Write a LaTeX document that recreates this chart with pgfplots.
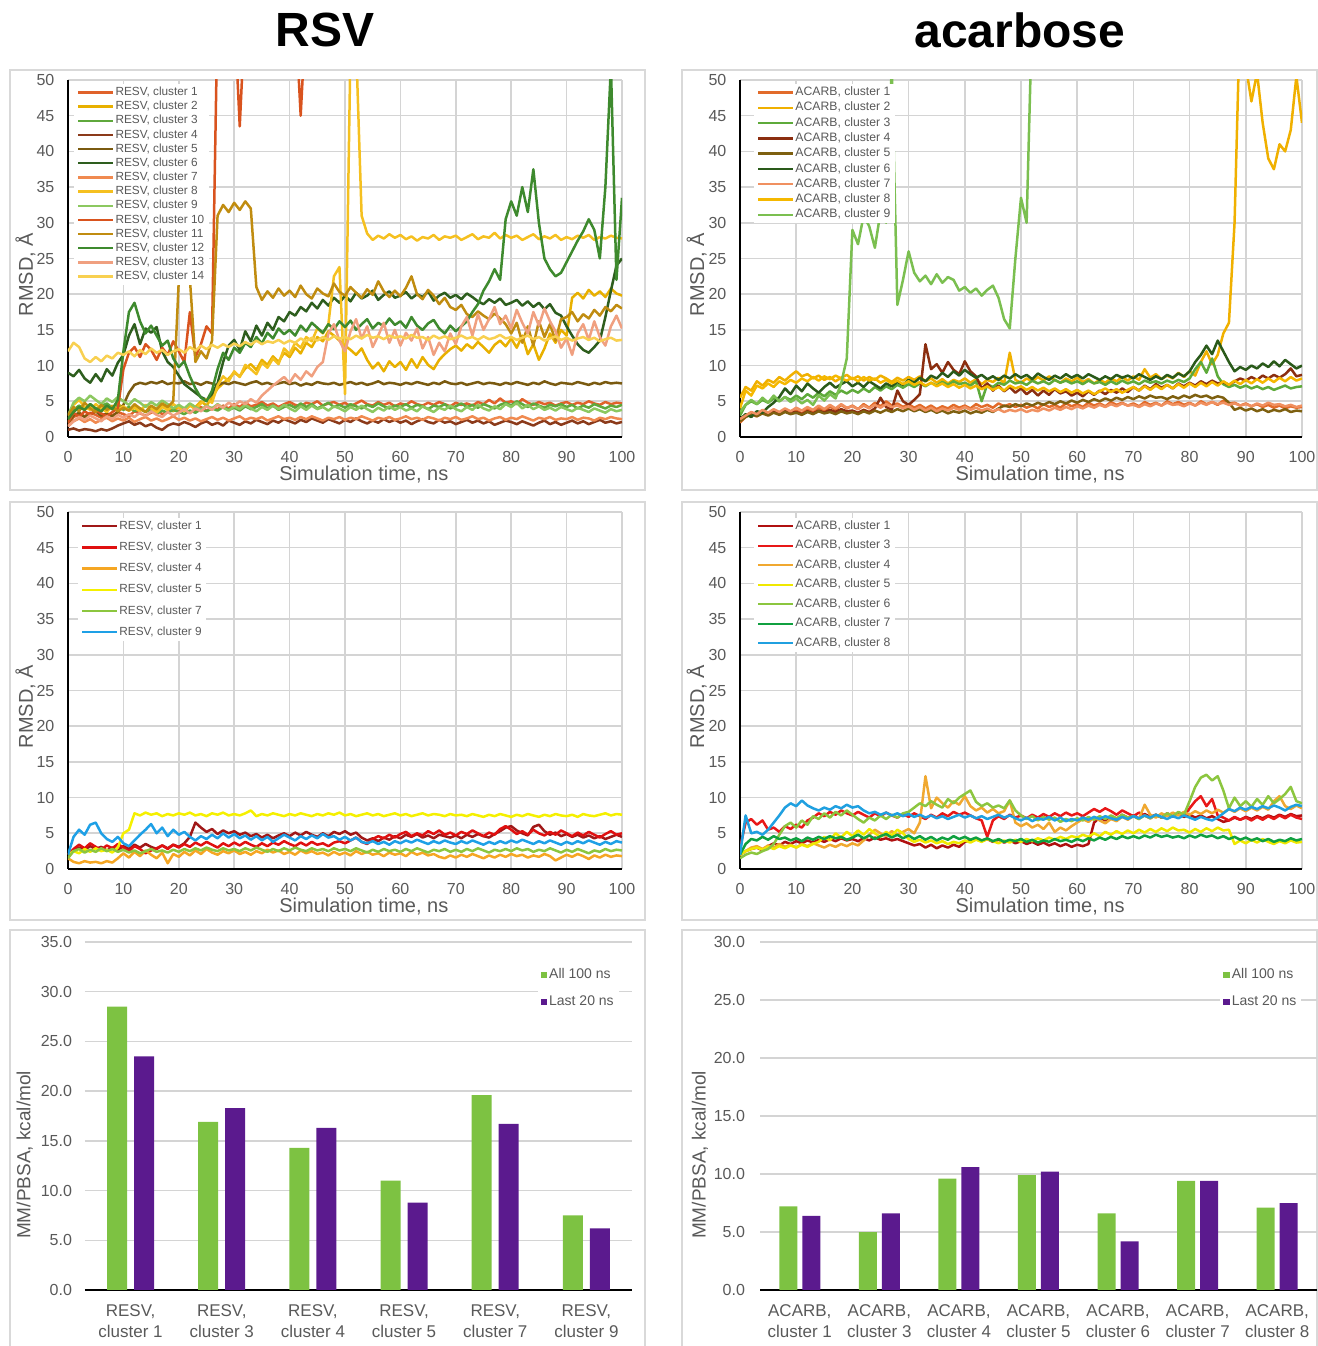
\documentclass[border=0pt]{standalone}
\usepackage{pgfplots}
\usepackage{pgfplotstable}
\pgfplotsset{compat=1.18}
\usepackage{fontspec}
\setmainfont{Liberation Sans}

\definecolor{labgray}{HTML}{595959}
\definecolor{gridgray}{HTML}{D4D4D4}
\definecolor{framegray}{HTML}{D9D9D9}
\definecolor{barGreen}{HTML}{7DC242}
\definecolor{barPurple}{HTML}{5B1A8E}
% RESV all
\definecolor{rA}{HTML}{E0622A}\definecolor{rB}{HTML}{E8B000}\definecolor{rC}{HTML}{5FA83C}
\definecolor{rD}{HTML}{8B3A1A}\definecolor{rE}{HTML}{7A5A10}\definecolor{rF}{HTML}{2E5E1E}
\definecolor{rG}{HTML}{F08A50}\definecolor{rH}{HTML}{F5C020}\definecolor{rI}{HTML}{8CC860}
\definecolor{rJ}{HTML}{D9531E}\definecolor{rK}{HTML}{C08C10}\definecolor{rL}{HTML}{3E8A2E}
\definecolor{rM}{HTML}{F0A080}\definecolor{rN}{HTML}{F8D050}
% ACARB all
\definecolor{aA}{HTML}{E26B2A}\definecolor{aB}{HTML}{F0B000}\definecolor{aC}{HTML}{5EAA3A}
\definecolor{aD}{HTML}{8B2E10}\definecolor{aE}{HTML}{7E6010}\definecolor{aF}{HTML}{2A5A1A}
\definecolor{aG}{HTML}{F09060}\definecolor{aH}{HTML}{F5B800}\definecolor{aI}{HTML}{7BBF50}
% selected
\definecolor{mA}{HTML}{A01818}\definecolor{mC}{HTML}{E01010}\definecolor{mD}{HTML}{F5A623}
\definecolor{mE}{HTML}{F5F000}\definecolor{mG}{HTML}{8CC63F}\definecolor{mI}{HTML}{1EA0E6}
\definecolor{nA}{HTML}{B01010}\definecolor{nC}{HTML}{E81818}\definecolor{nD}{HTML}{F0A830}
\definecolor{nE}{HTML}{F0E800}\definecolor{nF}{HTML}{8CC63F}\definecolor{nG}{HTML}{10A040}
\definecolor{nH}{HTML}{20A0E0}

% ---------------- RESV, all clusters (rows = series, t = 0..100 ns)
\pgfplotstableread{
t 0 1 2 3 4 5 6 7 8 9 10 11 12 13 14 15 16 17 18 19 20 21 22 23 24 25 26 27 28 29 30 31 32 33 34 35 36 37 38 39 40 41 42 43 44 45 46 47 48 49 50 51 52 53 54 55 56 57 58 59 60 61 62 63 64 65 66 67 68 69 70 71 72 73 74 75 76 77 78 79 80 81 82 83 84 85 86 87 88 89 90 91 92 93 94 95 96 97 98 99 100
c1 1.5 2.8 3.2 2.9 3.4 3.1 2.7 3.3 3.0 3.5 3.2 2.9 3.6 3.3 3.0 3.4 3.8 3.2 3.5 3.9 3.6 4.0 3.4 3.8 4.2 3.7 4.1 3.9 4.4 4.0 4.6 4.2 4.8 4.3 4.5 4.9 4.4 4.7 4.2 4.6 4.9 4.5 4.3 4.8 4.6 5.0 4.4 4.7 4.9 4.5 4.8 4.3 4.7 5.1 4.6 4.4 4.9 4.5 4.8 4.3 4.7 4.5 5.0 4.6 4.4 4.8 4.5 4.9 4.6 4.3 4.8 4.5 4.7 4.4 4.9 4.6 5.2 4.7 5.4 4.8 5.0 4.6 5.3 4.8 4.5 4.9 4.6 4.8 4.4 4.7 4.9 4.5 4.8 4.6 5.0 4.7 4.5 4.9 4.6 4.8 4.7
c2 2.0 3.5 4.2 3.8 4.5 4.0 3.6 4.3 3.9 4.6 4.1 3.7 4.4 4.0 3.5 4.2 3.8 4.5 4.1 3.6 4.3 3.9 4.6 4.2 5.0 4.4 5.5 6.8 7.5 8.2 9.0 8.5 9.6 10.2 9.4 10.8 10.1 11.3 10.5 11.8 11.2 12.5 11.7 13.2 12.6 14.0 13.4 14.8 14.2 13.5 12.8 12.2 11.5 12.4 10.8 9.6 10.4 9.2 10.6 9.8 10.5 9.4 10.9 9.7 11.2 10.1 9.5 10.8 11.6 12.3 12.8 12.1 13.0 12.4 13.3 12.6 11.8 12.9 13.5 12.7 13.8 12.5 14.2 11.6 13.0 10.8 12.4 14.5 13.2 15.0 14.2 19.5 20.2 19.4 20.6 19.8 20.4 19.6 20.8 20.1 19.8
c3 2.5 3.8 4.4 4.0 4.6 3.9 4.3 4.7 4.1 4.5 3.8 4.2 3.6 4.0 3.5 3.9 3.3 3.7 3.4 3.8 3.5 3.2 3.7 3.4 3.9 3.6 4.0 3.7 4.2 3.8 4.1 3.7 4.3 3.9 4.2 4.6 4.0 4.4 3.8 4.2 4.5 4.1 4.7 4.2 4.6 4.0 4.4 4.8 4.2 4.5 4.1 4.6 4.3 4.0 4.5 4.2 4.7 4.3 4.0 4.4 4.2 4.6 4.1 4.5 4.3 3.9 4.4 4.2 4.6 4.0 4.3 4.7 4.2 4.5 4.1 4.6 4.3 4.0 4.5 4.8 4.4 5.0 4.6 4.2 4.7 4.4 4.1 4.5 4.3 4.6 4.2 4.5 4.0 4.4 4.1 4.6 4.3 4.0 4.4 4.2 4.5
c4 1.0 1.2 0.9 1.1 1.0 0.8 1.1 0.9 1.2 1.6 1.9 2.2 1.7 2.0 1.5 1.8 1.3 1.0 1.6 1.9 1.7 2.1 1.8 1.4 1.9 2.2 1.7 2.0 1.6 2.3 2.0 1.7 2.2 1.9 2.4 2.1 1.8 2.3 2.0 2.5 2.2 1.9 2.4 2.1 2.6 2.3 2.0 2.5 2.2 1.9 2.4 2.1 2.6 2.2 1.9 2.3 2.0 2.5 2.1 2.4 2.0 2.3 1.8 2.2 2.5 2.1 1.9 2.4 2.0 2.2 1.8 2.1 2.4 2.0 2.3 1.9 2.2 1.7 2.0 2.3 2.1 1.8 2.2 1.9 1.6 2.0 2.3 1.8 2.1 1.7 2.0 2.3 1.9 2.2 1.8 2.1 2.4 2.0 2.2 1.9 2.1
c5 2.0 3.0 3.4 2.8 3.2 3.6 3.0 3.3 2.9 3.5 4.5 6.2 7.3 7.6 7.4 7.7 7.5 7.8 7.4 7.6 7.5 7.8 7.4 7.6 7.3 7.7 7.5 7.2 7.6 7.4 7.7 7.5 7.3 7.6 7.8 7.4 7.6 7.3 7.5 7.7 7.4 7.6 7.2 7.5 7.3 7.7 7.5 7.4 7.6 7.3 7.5 7.7 7.4 7.6 7.3 7.5 7.8 7.4 7.6 7.5 7.3 7.6 7.4 7.7 7.5 7.3 7.6 7.4 7.8 7.5 7.4 7.6 7.3 7.5 7.7 7.4 7.6 7.5 7.3 7.6 7.4 7.7 7.5 7.3 7.6 7.4 7.8 7.5 7.3 7.6 7.5 7.4 7.7 7.5 7.3 7.6 7.4 7.7 7.5 7.6 7.5
c6 9.0 8.5 9.4 8.2 7.6 8.8 7.8 9.5 8.6 10.4 11.5 14.2 15.8 13.0 15.2 14.6 15.4 12.0 10.5 9.8 8.6 7.4 6.8 6.2 5.6 5.2 6.0 7.5 10.5 12.8 13.6 12.2 14.8 13.4 15.6 14.2 16.0 15.0 16.8 16.2 17.5 17.0 18.2 17.6 18.8 18.0 19.2 18.4 19.5 18.8 19.8 19.0 20.2 19.4 19.8 20.5 19.2 19.9 20.4 19.5 19.8 20.3 19.4 20.0 19.6 20.4 19.1 19.8 20.2 19.5 19.9 19.3 20.1 19.6 19.0 18.6 19.3 18.8 19.4 18.5 18.8 19.2 18.4 19.0 18.2 18.8 17.9 18.6 17.4 17.0 15.5 14.2 13.0 12.2 11.8 12.6 13.5 16.8 20.5 24.0 25.0
c7 1.5 2.2 2.6 2.1 2.5 2.0 2.4 2.7 2.2 2.6 2.3 2.7 2.1 2.5 2.8 2.3 2.6 2.2 2.5 2.9 2.4 2.7 2.3 2.6 2.2 2.5 2.8 2.4 2.7 2.3 2.6 2.9 2.4 2.7 2.5 2.8 2.3 2.6 2.9 2.5 2.7 2.4 2.8 2.5 2.9 2.6 2.3 2.7 2.5 2.8 2.4 2.7 2.5 2.9 2.6 2.3 2.7 2.5 2.8 2.4 2.6 2.9 2.5 2.7 2.4 2.8 2.6 2.3 2.7 2.5 2.8 2.4 2.6 2.9 2.5 2.7 2.3 2.6 2.8 2.4 2.7 2.5 2.9 2.6 2.3 2.7 2.5 2.8 2.4 2.6 2.5 2.8 2.4 2.7 2.6 2.3 2.7 2.5 2.8 2.6 2.5
c8 3.0 4.5 5.2 4.2 3.8 4.6 4.0 3.5 4.4 3.9 4.3 3.7 4.1 3.6 4.5 4.0 3.4 4.2 3.8 4.6 4.1 3.6 4.4 3.9 4.7 5.3 4.8 7.2 8.5 7.8 9.2 8.4 10.1 9.5 8.8 10.4 9.7 11.0 10.2 12.4 11.6 13.2 12.5 14.0 13.4 15.2 14.5 15.8 22.5 23.8 6.0 55.0 55.0 31.0 28.5 27.6 28.2 27.8 28.4 27.9 28.3 27.7 28.1 27.5 28.0 27.8 28.3 27.6 28.1 27.9 28.2 27.6 28.0 28.4 27.7 28.1 27.9 28.6 27.8 28.3 27.9 28.2 27.6 28.0 28.4 27.7 28.1 27.8 28.3 27.6 28.0 27.7 28.2 27.9 28.3 27.6 28.0 27.8 28.2 27.9 27.8
c9 3.0 4.8 5.5 5.0 5.8 5.2 4.6 5.4 4.9 5.6 5.0 4.5 5.3 4.8 4.2 4.9 4.4 5.1 4.6 4.0 4.5 4.0 4.7 4.2 3.8 4.4 4.0 4.6 4.1 3.7 4.3 3.9 4.5 4.0 3.6 4.2 3.8 4.4 3.9 4.5 4.0 3.6 4.3 3.8 4.4 3.9 4.2 3.7 4.3 4.0 3.6 4.2 3.8 4.4 3.9 3.5 4.1 3.7 4.3 3.8 4.2 3.7 4.0 3.6 4.3 3.9 3.5 4.1 3.8 4.4 3.9 3.6 4.2 3.8 4.5 4.0 3.7 4.3 3.9 4.6 4.2 4.8 4.0 4.5 3.9 4.3 3.8 4.1 3.7 4.2 3.9 3.6 4.1 3.8 3.5 4.0 3.7 3.4 3.9 3.6 3.8
c10 2.0 3.4 2.8 3.6 3.1 3.8 3.3 2.9 3.5 4.0 9.5 11.8 12.6 11.2 13.0 12.2 10.8 12.5 11.5 13.4 12.0 10.5 17.5 11.2 13.0 15.5 14.5 60 60 60 60 43.5 60 60 60 60 60 60 60 60 60 60 45 60 60 60 60 60 60 60 60 60 60 60 60 60 60 60 60 60 60 60 60 60 60 60 60 60 60 60 60 60 60 60 60 60 60 60 60 60 60 60 60 60 60 60 60 60 60 60 60 60 60 60 60 60 60 60 60 60 60
c11 3.0 4.2 3.6 4.8 4.0 3.5 4.5 3.8 4.3 3.6 4.1 3.7 4.6 4.0 3.5 4.4 3.9 4.7 4.2 5.0 22.0 21.8 22.2 10.5 12.0 11.0 13.5 31.0 32.5 31.5 32.8 31.8 33.0 32.0 21.0 19.2 20.4 19.5 20.8 19.8 20.5 19.6 21.2 20.0 19.4 20.8 20.1 19.7 21.5 20.3 19.8 21.0 20.2 19.5 20.7 19.9 21.8 20.4 19.6 20.5 19.7 20.9 22.5 20.0 19.3 20.6 19.8 18.6 19.5 18.2 17.8 18.5 17.2 16.8 17.6 17.0 16.5 17.3 16.6 15.8 14.5 16.0 13.2 15.5 12.8 16.2 14.0 15.8 13.5 16.5 16.8 17.5 16.2 17.2 16.6 17.8 17.0 18.2 17.6 18.5 18.0
c12 2.5 3.5 4.2 3.8 4.6 4.0 3.6 4.4 3.9 5.2 12.0 17.5 18.8 16.2 14.5 15.6 14.2 12.8 13.5 11.0 9.8 10.6 8.5 6.8 5.5 5.0 6.5 9.5 11.8 10.8 12.5 11.8 13.2 12.6 14.0 13.1 14.6 13.8 15.2 14.4 15.0 14.2 15.6 14.8 16.0 15.3 14.6 15.8 15.1 16.2 15.4 16.3 15.0 15.8 16.5 15.2 16.0 15.5 16.6 15.7 16.2 15.3 16.8 15.6 15.0 15.9 16.4 15.2 14.5 15.6 14.8 15.5 16.2 17.5 18.6 20.5 21.8 23.5 22.0 30.5 33.0 31.0 35.0 31.5 37.5 30.0 25.0 23.5 22.5 23.0 24.5 26.0 27.5 28.8 30.5 29.0 25.0 35.0 52.0 22.0 33.5
c13 1.5 2.2 2.8 2.4 3.0 2.6 2.2 2.9 2.5 3.1 2.7 3.2 2.8 3.4 2.9 3.6 3.1 2.8 3.5 3.0 3.4 3.9 3.3 4.0 3.6 4.3 3.8 4.5 4.1 4.8 4.4 5.0 4.6 5.3 4.8 5.8 6.5 7.2 7.8 8.4 7.6 8.8 8.0 9.2 8.5 9.8 10.5 14.5 15.8 13.5 12.0 14.8 16.5 13.8 15.5 12.6 14.2 16.0 13.2 15.0 12.8 14.6 13.5 15.2 12.4 14.0 11.5 13.2 12.0 14.5 13.0 15.5 16.8 14.2 17.2 15.0 16.5 18.2 15.8 17.0 15.2 17.8 16.0 14.5 17.5 15.6 18.0 16.2 14.8 12.5 13.8 11.5 14.5 15.8 13.6 16.2 14.0 12.8 15.5 17.0 15.2
c14 12.0 13.2 12.6 11.0 10.5 11.2 10.6 11.4 11.0 11.8 11.5 12.0 11.3 12.2 11.6 12.4 11.8 12.2 11.5 12.0 12.3 11.8 12.6 12.1 12.8 12.3 12.9 12.5 13.0 12.6 13.1 12.7 13.3 12.9 13.5 13.0 13.4 13.2 13.6 13.1 13.5 13.2 13.8 13.4 13.9 13.5 14.0 13.6 14.1 13.8 14.0 13.7 14.2 13.8 14.3 13.9 14.1 13.7 14.2 13.9 14.1 13.8 14.3 13.9 14.0 13.6 14.2 13.8 14.1 13.7 13.9 14.2 13.8 14.0 13.6 14.1 13.7 13.9 14.3 13.8 14.0 13.6 13.9 14.2 13.7 14.0 13.5 13.8 14.1 13.6 13.9 13.5 13.8 14.0 13.6 13.9 13.4 13.7 13.9 13.5 13.6
}\RAraw
\pgfplotstabletranspose[colnames from=t]{\RA}{\RAraw}

% ---------------- ACARB, all clusters
\pgfplotstableread{
t 0 1 2 3 4 5 6 7 8 9 10 11 12 13 14 15 16 17 18 19 20 21 22 23 24 25 26 27 28 29 30 31 32 33 34 35 36 37 38 39 40 41 42 43 44 45 46 47 48 49 50 51 52 53 54 55 56 57 58 59 60 61 62 63 64 65 66 67 68 69 70 71 72 73 74 75 76 77 78 79 80 81 82 83 84 85 86 87 88 89 90 91 92 93 94 95 96 97 98 99 100
a1 2.0 2.8 3.2 2.9 3.4 3.1 3.6 3.3 3.8 3.4 3.7 3.3 3.9 3.5 4.1 3.6 4.3 3.8 4.5 4.0 4.4 3.9 4.6 4.1 4.8 4.3 5.0 4.4 4.7 4.2 4.6 4.1 4.5 4.0 4.4 3.9 4.3 4.0 4.5 4.1 4.4 4.0 4.6 4.2 4.5 4.1 4.7 4.3 4.6 4.2 4.5 4.1 4.4 4.0 4.6 4.2 4.5 4.1 4.7 4.3 4.6 4.2 4.8 4.4 4.7 4.3 4.9 4.5 4.8 4.4 4.7 4.3 4.9 4.5 4.8 4.4 5.0 4.6 4.9 4.5 4.8 4.4 5.0 4.6 4.9 4.5 5.1 4.7 4.8 4.4 4.7 4.3 4.6 4.2 4.5 4.1 4.4 4.0 4.3 4.1 4.2
a2 5.5 7.0 6.5 7.8 7.2 8.0 7.6 8.4 7.9 8.6 9.2 8.5 8.8 8.2 8.6 8.0 8.4 7.8 8.3 8.7 8.1 8.5 7.9 8.4 8.0 8.6 8.2 7.7 8.3 7.9 8.4 8.0 8.5 7.8 8.2 7.6 8.1 7.5 8.0 7.7 8.2 7.6 8.1 7.4 8.0 7.7 8.3 7.5 11.8 8.0 7.6 8.2 7.8 8.4 7.9 8.5 8.0 7.6 8.2 7.8 8.3 7.7 8.1 7.5 8.0 7.6 8.2 7.8 8.4 7.9 8.5 8.0 9.5 8.3 8.8 8.1 8.6 8.2 9.0 8.4 9.2 8.6 10.5 12.0 10.2 11.5 14.5 16.0 30.0 60 52.0 47.0 51.0 44.0 39.0 37.5 41.0 40.0 43.0 50.5 44.0
a3 3.0 4.5 5.0 4.6 5.2 4.8 5.4 5.0 5.6 5.2 5.8 5.3 6.0 5.5 6.2 5.7 6.4 5.9 6.5 6.1 6.6 6.2 6.8 6.3 7.0 6.5 7.1 6.7 7.3 6.9 7.4 7.0 7.5 7.1 7.6 7.2 7.7 7.3 7.8 7.4 7.6 7.2 7.8 5.0 7.4 7.0 7.6 7.3 7.9 7.5 7.7 7.3 7.9 7.5 7.8 7.4 8.0 7.6 7.9 7.5 7.8 7.4 7.9 7.5 7.7 7.3 7.8 7.4 7.9 7.5 7.8 7.4 7.9 7.6 7.8 7.5 7.9 7.6 8.0 7.7 8.2 9.5 10.5 9.0 11.0 8.5 7.4 7.0 7.3 6.9 7.2 6.8 7.1 6.7 7.0 6.6 6.9 7.2 6.8 7.0 7.1
a4 2.5 3.0 3.4 3.1 3.5 3.2 3.6 3.3 3.7 3.4 3.5 3.2 3.6 3.3 3.7 3.4 3.8 3.5 3.9 3.6 3.7 3.4 3.8 3.5 4.0 5.5 4.2 3.8 6.5 5.0 4.5 5.2 6.0 13.0 9.5 10.2 9.0 10.5 9.4 8.8 10.6 9.2 8.5 6.8 7.5 6.5 7.2 6.4 7.0 6.2 6.8 6.0 6.6 5.8 6.5 5.9 6.7 6.1 6.4 5.8 6.2 5.7 6.4 5.9 6.5 6.0 6.6 6.2 6.8 6.3 7.0 6.5 7.2 6.7 7.4 6.9 7.3 6.8 7.5 7.1 7.6 7.2 7.8 7.4 7.9 7.5 7.7 7.3 7.8 8.2 7.9 8.4 8.0 8.6 8.2 8.7 8.3 8.8 9.6 8.5 8.7
a5 2.2 2.8 3.2 2.9 3.3 3.0 3.4 3.1 3.5 3.2 3.4 3.1 3.5 3.2 3.6 3.3 3.5 3.2 3.6 3.3 3.5 3.2 3.6 3.3 3.7 3.4 3.8 3.5 3.9 3.6 4.0 3.6 3.9 3.5 3.8 3.4 3.7 3.3 3.6 3.4 3.7 3.3 3.6 3.4 3.8 3.5 4.0 4.4 4.2 4.6 4.3 4.7 4.4 4.8 4.5 4.9 4.6 5.0 4.7 5.1 4.8 5.2 4.9 5.3 5.0 5.4 5.1 5.5 5.2 5.6 5.3 5.7 5.4 5.8 5.5 5.6 5.3 5.7 5.4 5.8 5.5 5.9 5.6 5.8 5.4 5.7 5.5 4.8 3.8 4.1 3.7 4.0 3.6 3.9 3.5 3.8 3.6 3.9 3.5 3.7 3.6
a6 2.5 3.2 2.8 3.6 3.4 4.2 4.8 5.6 6.8 6.0 7.2 6.4 7.5 6.8 6.2 7.0 7.6 6.9 7.4 7.8 7.1 7.6 7.0 7.8 7.3 6.8 7.5 7.1 7.7 7.3 8.0 7.6 8.3 7.8 8.6 8.2 9.0 8.4 9.2 8.6 9.4 8.8 8.3 8.7 8.1 8.5 8.0 8.6 8.2 8.8 8.3 8.7 8.1 8.9 8.4 8.0 8.6 8.2 8.8 8.3 8.7 8.2 8.8 8.4 8.0 8.5 8.1 8.7 8.3 8.6 8.2 8.8 8.4 8.0 8.5 8.1 8.7 8.3 8.9 8.5 9.2 10.5 11.5 12.8 11.6 13.5 12.0 10.5 9.2 9.8 9.4 10.0 9.6 10.3 9.8 10.6 9.9 10.8 10.2 9.6 10.0
a7 2.5 3.0 3.5 3.2 3.8 3.4 3.9 3.5 4.0 3.6 4.1 3.7 4.2 3.8 4.4 3.9 4.5 4.0 4.6 4.1 4.3 3.9 4.4 4.0 4.5 4.1 4.6 4.2 4.4 4.0 4.3 3.8 4.2 3.7 4.1 3.6 4.0 3.7 4.1 3.8 4.2 3.8 4.1 3.7 4.0 3.6 3.9 3.5 3.8 3.6 3.9 3.5 3.8 3.6 4.0 3.7 4.1 3.8 4.2 3.9 4.3 4.0 4.4 4.1 4.5 4.2 4.6 4.3 4.7 4.4 4.5 4.2 4.6 4.3 4.7 4.4 4.8 4.5 4.6 4.3 4.7 4.4 4.8 4.5 4.9 4.6 4.8 4.5 4.7 4.4 4.6 4.3 4.7 4.4 4.8 4.5 4.6 4.3 4.5 4.2 4.4
a8 4.0 6.5 5.8 7.2 6.8 7.5 7.0 7.8 7.4 8.0 7.6 8.2 7.8 8.4 7.9 8.5 8.1 8.6 8.2 7.9 8.3 7.8 8.4 7.9 8.2 7.6 8.0 7.5 7.9 7.4 7.8 7.3 7.7 7.2 7.6 7.1 7.5 7.0 7.4 6.9 7.3 6.8 7.2 6.7 7.1 6.6 7.0 6.5 7.2 6.8 7.1 6.6 7.0 6.5 6.9 6.4 6.8 6.3 6.7 6.2 6.6 6.1 6.5 6.0 6.4 6.8 6.3 6.7 6.2 6.6 7.0 6.5 7.1 6.6 7.2 6.7 7.3 6.8 7.4 6.9 7.5 7.0 7.6 7.1 7.7 7.2 7.8 7.3 7.9 7.4 8.0 7.5 8.1 7.6 8.2 7.7 8.3 7.8 8.4 7.9 8.2
a9 3.5 4.5 5.2 4.6 5.5 4.8 5.8 5.0 5.6 4.9 5.4 4.7 5.2 4.5 5.8 5.1 6.0 5.4 7.5 11.0 29.0 27.0 31.0 29.5 26.5 31.5 30.0 52.0 18.5 22.0 26.0 23.0 21.8 22.6 21.4 22.8 21.6 22.4 22.0 20.5 21.0 20.2 20.8 19.8 20.6 21.2 19.5 16.5 15.2 25.0 33.5 30.0 60 60 60 60 60 60 60 60 60 60 60 60 60 60 60 60 60 60 60 60 60 60 60 60 60 60 60 60 60 60 60 60 60 60 60 60 60 60 60 60 60 60 60 60 60 60 60 60 60
}\AAraw
\pgfplotstabletranspose[colnames from=t]{\AA}{\AAraw}

% ---------------- RESV, selected clusters
\pgfplotstableread{
t 0 1 2 3 4 5 6 7 8 9 10 11 12 13 14 15 16 17 18 19 20 21 22 23 24 25 26 27 28 29 30 31 32 33 34 35 36 37 38 39 40 41 42 43 44 45 46 47 48 49 50 51 52 53 54 55 56 57 58 59 60 61 62 63 64 65 66 67 68 69 70 71 72 73 74 75 76 77 78 79 80 81 82 83 84 85 86 87 88 89 90 91 92 93 94 95 96 97 98 99 100
m1 2.0 2.6 3.0 2.7 3.2 2.8 3.1 2.6 3.0 2.7 3.2 2.8 3.4 3.0 3.5 3.1 2.8 3.3 2.9 3.4 3.1 3.6 4.5 6.5 5.8 5.2 5.6 4.9 5.4 5.0 5.3 4.8 5.1 4.6 4.9 4.4 4.8 4.3 4.7 5.0 4.6 5.1 4.7 5.2 4.8 4.5 5.0 4.6 5.2 4.9 5.3 4.8 5.1 4.4 4.0 4.3 3.9 4.4 4.1 4.6 4.3 4.8 4.5 4.9 4.4 4.7 4.3 4.8 4.6 4.4 4.7 4.3 4.8 4.5 4.9 4.6 4.4 4.9 5.3 5.8 6.0 5.4 5.0 4.7 5.9 6.2 5.3 4.8 5.1 4.6 4.9 4.5 4.8 4.4 4.7 4.3 4.6 4.2 4.5 4.8 4.5
m3 2.0 2.8 3.4 2.9 3.6 3.1 2.7 3.3 2.9 3.5 3.0 2.5 3.2 2.8 2.2 2.6 2.9 3.3 2.8 3.4 3.0 3.5 3.1 3.7 3.3 3.8 3.4 3.0 3.6 3.2 3.7 3.3 3.8 3.4 3.1 3.6 3.2 3.7 3.4 3.9 3.5 3.2 3.7 3.3 3.8 3.4 3.6 3.2 3.7 3.9 3.6 4.0 4.4 3.8 3.5 4.2 4.6 4.3 4.8 4.4 4.9 5.2 4.6 5.0 4.7 5.3 4.9 5.4 4.8 5.1 4.7 5.2 4.9 5.4 5.0 4.6 5.1 4.8 5.6 6.0 5.5 4.9 5.3 4.8 5.5 5.0 4.7 5.2 4.8 5.4 5.0 4.6 5.1 4.7 5.2 4.8 4.4 4.9 5.3 4.8 5.0
m4 1.5 1.0 0.8 1.1 0.9 1.0 0.8 1.1 0.9 1.5 2.2 1.6 2.4 1.8 2.6 2.0 1.5 2.3 0.8 2.1 1.7 2.4 1.9 2.6 2.1 2.8 2.3 2.0 2.5 2.2 2.6 2.1 2.4 2.0 2.5 2.2 2.7 2.3 2.6 2.1 2.4 2.0 2.6 2.2 2.5 2.1 2.3 1.9 2.4 2.0 2.3 1.9 2.5 2.1 2.4 2.0 2.2 1.8 2.3 2.0 2.2 1.8 2.4 2.0 2.3 1.9 2.1 1.7 1.5 1.9 1.6 2.0 1.7 2.1 1.8 1.5 1.9 1.6 2.0 1.7 2.1 1.8 2.0 1.6 1.9 1.7 2.1 1.8 1.2 1.6 2.0 1.7 2.1 1.8 1.4 1.9 1.6 2.0 1.7 1.9 1.8
m5 2.0 2.5 2.2 2.8 2.4 2.9 2.5 2.7 2.3 3.0 5.0 5.5 7.8 7.5 7.9 7.6 7.8 7.4 7.7 7.5 7.8 7.6 7.9 7.5 7.7 7.4 7.8 7.6 7.9 7.5 7.7 7.5 7.8 8.2 7.4 7.7 7.5 7.8 7.6 7.4 7.7 7.5 7.8 7.6 7.4 7.7 7.5 7.8 7.6 7.9 7.5 7.7 7.4 7.6 7.8 7.5 7.7 7.4 7.6 7.8 7.5 7.7 7.4 7.6 7.8 7.5 7.7 7.6 7.4 7.7 7.5 7.6 7.4 7.7 7.5 7.3 7.6 7.4 7.7 7.5 7.3 7.6 7.4 7.7 7.5 7.3 7.6 7.4 7.7 7.5 7.4 7.6 7.3 7.7 7.5 7.4 7.6 7.8 7.5 7.7 7.6
m7 1.5 2.5 2.8 2.3 2.7 2.4 2.9 2.5 2.8 2.4 2.7 2.3 2.6 2.2 2.5 2.8 2.4 2.6 2.3 2.7 2.4 2.8 2.5 2.9 2.6 3.0 2.7 2.5 2.9 2.6 2.8 2.5 2.9 2.6 3.0 2.7 2.4 2.8 2.5 2.9 2.6 3.0 2.7 2.5 2.9 2.6 2.8 2.5 2.9 2.6 2.8 2.5 2.9 2.6 2.3 2.7 2.4 2.8 2.5 2.7 2.4 2.8 2.5 2.9 2.6 2.3 2.7 2.5 2.8 2.4 2.7 2.4 2.8 2.5 2.9 2.6 2.3 2.7 2.5 2.8 2.5 2.9 2.6 2.8 2.4 2.7 2.5 2.9 2.6 2.3 2.7 2.4 2.8 2.5 2.2 2.6 2.4 2.8 2.5 2.7 2.6
m9 2.0 4.5 5.5 4.8 6.2 6.5 5.0 4.2 3.8 4.5 3.6 3.2 4.0 4.8 5.5 6.3 5.0 5.8 4.6 5.5 4.8 5.2 4.5 4.0 4.6 4.2 4.8 4.3 5.0 4.4 4.9 4.3 4.7 4.1 4.6 4.0 4.5 3.8 4.3 4.8 4.4 4.0 4.6 4.2 4.7 4.3 4.9 4.4 4.6 4.1 4.5 4.0 4.4 3.8 3.6 3.9 3.5 3.8 3.4 3.9 3.6 4.0 3.7 4.1 3.8 3.5 3.9 3.6 4.0 3.7 3.5 3.9 3.6 4.0 3.7 3.4 3.8 3.5 3.9 3.6 4.0 3.7 4.1 3.8 3.5 3.9 3.6 4.0 3.7 3.4 3.8 3.5 3.9 3.6 4.0 3.7 3.4 3.8 3.5 3.9 3.7
}\RSraw
\pgfplotstabletranspose[colnames from=t]{\RS}{\RSraw}

% ---------------- ACARB, selected clusters
\pgfplotstableread{
t 0 1 2 3 4 5 6 7 8 9 10 11 12 13 14 15 16 17 18 19 20 21 22 23 24 25 26 27 28 29 30 31 32 33 34 35 36 37 38 39 40 41 42 43 44 45 46 47 48 49 50 51 52 53 54 55 56 57 58 59 60 61 62 63 64 65 66 67 68 69 70 71 72 73 74 75 76 77 78 79 80 81 82 83 84 85 86 87 88 89 90 91 92 93 94 95 96 97 98 99 100
n1 2.0 2.5 2.8 3.0 2.6 3.2 3.6 3.3 3.8 3.5 3.9 3.6 4.0 3.7 4.1 3.8 4.2 3.9 4.3 4.0 4.2 3.9 4.3 4.0 4.4 4.1 4.3 4.0 4.2 3.9 3.6 3.3 3.5 3.0 3.4 2.9 3.3 3.0 3.4 3.1 3.8 4.0 4.3 3.9 4.2 3.8 4.1 3.7 4.0 3.6 3.9 3.5 3.8 3.4 3.7 3.3 3.6 3.2 3.5 3.1 3.4 3.2 3.5 6.5 7.2 6.8 7.4 7.0 7.6 7.2 7.5 7.1 7.7 7.3 7.6 7.2 7.8 7.4 7.7 7.3 7.6 7.2 7.5 7.1 7.4 7.0 6.6 6.8 7.2 6.9 7.3 7.0 7.4 7.1 7.5 7.2 7.6 7.3 7.7 7.4 7.5
n3 3.0 6.5 7.0 6.2 6.8 5.5 5.8 5.2 6.0 5.6 6.2 5.8 6.8 7.2 7.8 7.4 8.0 7.6 8.2 7.8 7.5 8.0 7.6 7.2 7.8 7.4 7.9 7.5 7.2 7.7 7.3 7.8 7.4 7.0 7.6 7.2 7.8 7.4 8.0 7.6 7.9 7.5 7.1 6.8 4.5 6.8 7.4 7.0 7.6 7.2 7.5 7.1 7.6 7.2 7.7 7.3 7.8 7.4 7.9 7.5 7.8 7.4 7.9 8.4 8.0 8.5 8.1 7.6 8.2 7.8 7.4 7.9 7.5 7.1 7.6 7.2 7.7 7.3 7.8 7.4 8.5 9.5 10.2 8.8 9.8 7.5 7.2 6.8 7.3 6.9 7.2 6.8 7.3 6.9 7.4 7.0 7.5 7.1 7.6 7.2 7.0
n4 2.0 2.5 3.0 3.2 2.8 3.3 3.0 3.5 3.1 3.4 3.0 3.5 3.2 3.6 3.3 3.0 3.4 3.1 3.5 3.2 3.6 3.3 4.0 4.8 5.5 5.0 4.6 5.3 4.8 5.2 5.6 5.0 6.5 13.0 8.5 10.0 9.2 8.6 9.5 9.0 10.2 8.8 8.2 8.6 7.9 8.4 7.8 8.1 9.6 6.5 6.0 6.4 5.8 6.2 5.6 6.5 5.2 5.8 5.4 6.0 6.5 7.0 6.6 7.2 6.8 6.4 7.0 6.7 7.3 6.9 7.4 7.0 9.0 7.6 7.2 7.8 7.4 7.9 7.5 8.0 7.6 8.1 7.7 8.2 7.8 8.3 7.9 8.4 8.0 8.5 8.1 8.6 8.2 8.7 8.3 9.5 10.2 8.8 8.4 8.9 8.5
n5 2.0 2.5 2.8 3.0 2.7 3.1 2.8 3.2 2.9 3.3 3.0 3.4 3.1 3.5 3.8 4.5 4.0 5.0 4.4 5.2 4.6 5.4 4.8 5.6 5.0 4.5 5.2 4.7 5.5 5.0 4.2 3.8 4.1 3.7 4.0 3.6 3.9 3.5 3.8 3.6 4.0 3.7 4.1 3.8 4.2 3.9 3.6 4.0 3.7 4.1 3.8 4.2 3.9 4.3 4.0 4.4 4.1 4.5 4.2 4.6 4.4 4.8 4.5 5.0 4.6 5.2 4.8 5.3 4.9 5.4 5.0 5.5 5.1 5.6 5.2 5.7 5.3 5.8 5.4 5.5 5.1 5.6 5.2 5.7 5.3 5.8 5.4 5.5 3.5 4.0 3.6 4.1 3.7 4.2 3.8 3.5 3.9 3.6 4.0 3.7 3.8
n6 1.5 2.0 2.3 2.1 2.5 2.8 3.5 4.8 6.0 6.5 5.8 6.8 6.2 7.4 7.0 7.8 7.2 8.0 7.5 8.2 7.6 7.0 6.5 7.2 6.8 7.5 7.0 7.6 7.2 7.8 8.0 8.6 9.2 8.8 9.5 9.0 8.6 9.8 9.2 10.0 10.5 11.0 9.4 8.8 9.2 8.6 8.9 8.5 9.6 8.2 7.5 7.0 7.4 6.8 7.3 6.9 7.2 6.6 7.0 6.7 7.1 6.8 7.3 6.9 7.4 7.0 7.5 7.1 7.6 7.2 7.4 7.0 7.5 7.1 7.6 7.2 7.8 7.4 8.0 7.6 9.5 11.5 12.8 13.2 12.4 13.0 11.0 8.5 10.0 8.8 9.5 8.7 9.8 9.0 10.2 9.2 9.8 10.5 11.5 9.5 9.2
n7 2.0 3.5 4.2 4.0 4.5 4.1 4.6 4.2 4.4 4.0 4.3 3.9 4.4 4.1 4.5 4.2 4.6 4.3 4.5 4.1 4.4 4.8 4.3 4.7 4.2 4.6 4.9 4.4 4.8 4.3 4.7 4.2 4.6 4.1 4.5 4.0 4.4 4.1 4.6 4.2 4.5 4.1 4.4 4.0 4.3 3.9 4.2 3.8 4.1 3.9 4.2 3.8 4.1 3.7 4.0 3.8 4.2 3.9 4.1 3.8 4.2 3.9 4.3 4.0 4.4 4.1 4.5 4.2 4.6 4.3 4.6 4.3 4.7 4.4 4.8 4.5 4.7 4.4 4.6 4.3 4.7 4.4 4.8 4.5 4.7 4.3 4.6 4.2 4.5 4.1 4.4 4.0 4.3 3.9 4.2 3.8 4.1 3.9 4.3 4.0 4.2
n8 2.0 7.5 5.0 5.2 4.8 5.5 6.5 7.5 8.6 9.2 8.8 9.6 8.9 8.5 8.2 8.6 8.3 8.8 8.5 9.0 8.6 8.8 8.2 7.8 8.0 7.6 7.9 7.5 7.8 7.4 7.7 7.3 7.6 7.2 7.5 7.1 7.4 7.0 7.3 7.6 7.2 7.5 7.1 7.4 7.0 7.3 7.6 7.2 7.5 7.1 6.8 7.2 6.7 7.1 6.9 7.3 6.8 7.2 6.7 7.0 6.8 7.2 6.9 7.3 7.0 7.4 7.1 6.9 7.3 7.0 7.4 7.1 7.5 7.2 7.6 7.3 7.0 7.4 7.1 7.5 7.2 6.9 7.3 7.0 6.8 7.2 7.8 8.4 8.1 8.6 8.3 8.7 8.4 8.8 8.5 8.9 8.6 8.2 8.7 9.0 8.8
}\ASraw
\pgfplotstabletranspose[colnames from=t]{\AS}{\ASraw}

\pgfplotsset{
  rmsd/.style={
    scale only axis, height=178.5pt,
    xmin=0, xmax=100, ymin=0, ymax=50,
    xtick={0,10,20,30,40,50,60,70,80,90,100}, ytick={0,5,10,15,20,25,30,35,40,45,50},
    xmajorgrids=true, ymajorgrids=true,
    major grid style={draw=gridgray, line width=0.8pt},
    axis lines=left, axis line style={-, black, line width=1.4pt},
    tick style={draw=none}, major tick length=0pt,
    /pgf/number format/assume math mode=true,
    ticklabel style={font=\fontsize{8}{9}\selectfont, text=labgray},
    xticklabel style={yshift=-3.4pt},
    yticklabel style={xshift=-3.3pt},
    label style={font=\fontsize{10}{12}\selectfont, text=labgray},
    xlabel={Simulation time, ns}, ylabel={RMSD, Å},
    xlabel style={at={(axis description cs:0.534,0)}, anchor=center, yshift=-19pt},
    ylabel style={at={(axis description cs:-0.077,0.455)}, anchor=center},
    legend cell align=left,
    legend style={draw=none, fill=white, text=labgray, inner sep=1.5pt, anchor=north west,
      font=\fontsize{5.9}{7}\selectfont,
      nodes={inner xsep=0.6pt, inner ysep=0pt, text height=4.3pt, text depth=1.2pt}},
    legend image code/.code={\draw[##1, line width=1.2pt] (0pt,0pt) -- (17.5pt,0pt);},
    every axis plot/.append style={line width=1.25pt, line join=round, mark=none},
  },
  mmpbsa/.style={
    scale only axis, height=174pt, ybar, ymin=0,
    enlarge x limits=false,
    axis x line*=bottom, axis y line*=left,
    x axis line style={-, black, line width=1pt},
    y axis line style={draw=none},
    tick style={draw=none}, major tick length=0pt,
    ymajorgrids, major grid style={draw=gridgray, line width=0.7pt},
    /pgf/number format/assume math mode=true,
    /pgf/number format/fixed, /pgf/number format/fixed zerofill, /pgf/number format/precision=1,
    yticklabel style={font=\fontsize{8}{9}\selectfont, text=labgray},
    xticklabel style={font=\fontsize{8.5}{10.5}\selectfont, text=labgray, align=center, yshift=-4pt},
    ylabel={MM/PBSA, kcal/mol},
    ylabel style={font=\fontsize{9.5}{11}\selectfont, text=labgray, anchor=center},
    legend cell align=left,
    legend style={draw=none, fill=white, text=labgray, inner sep=1.5pt, anchor=north west,
      font=\fontsize{7}{8}\selectfont, row sep=7pt,
      nodes={inner xsep=1pt, inner ysep=0pt, text height=5pt, text depth=1.5pt}},
  },
}

\begin{document}
\begin{tikzpicture}[x=1pt,y=1pt]
% panel frames
\draw[framegray, line width=0.75pt] (5,428) rectangle (322.5,638);
\draw[framegray, line width=0.75pt] (341,428) rectangle (658.5,638);
\draw[framegray, line width=0.75pt] (5,213) rectangle (322.5,422);
\draw[framegray, line width=0.75pt] (341,213) rectangle (658.5,422);
\draw[framegray, line width=0.75pt] (5,-1) rectangle (322.5,208);
\draw[framegray, line width=0.75pt] (341,-1) rectangle (658.5,208);
% titles
\node[font=\bfseries\fontsize{24}{28}\selectfont] at (162.5,658) {RSV};
\node[font=\bfseries\fontsize{24}{28}\selectfont] at (510,658) {acarbose};

% ---------- top left
\begin{axis}[rmsd, width=277pt, at={(34pt,454.5pt)}, anchor=south west,
  legend style={at={(0.01,0.99)}, row sep=1.58pt}]
\addplot[rA] table[x=colnames,y=c1]{\RA};\addlegendentry{RESV, cluster 1}
\addplot[rB] table[x=colnames,y=c2]{\RA};\addlegendentry{RESV, cluster 2}
\addplot[rC] table[x=colnames,y=c3]{\RA};\addlegendentry{RESV, cluster 3}
\addplot[rD] table[x=colnames,y=c4]{\RA};\addlegendentry{RESV, cluster 4}
\addplot[rE] table[x=colnames,y=c5]{\RA};\addlegendentry{RESV, cluster 5}
\addplot[rF] table[x=colnames,y=c6]{\RA};\addlegendentry{RESV, cluster 6}
\addplot[rG] table[x=colnames,y=c7]{\RA};\addlegendentry{RESV, cluster 7}
\addplot[rH] table[x=colnames,y=c8]{\RA};\addlegendentry{RESV, cluster 8}
\addplot[rI] table[x=colnames,y=c9]{\RA};\addlegendentry{RESV, cluster 9}
\addplot[rJ] table[x=colnames,y=c10]{\RA};\addlegendentry{RESV, cluster 10}
\addplot[rK] table[x=colnames,y=c11]{\RA};\addlegendentry{RESV, cluster 11}
\addplot[rL] table[x=colnames,y=c12]{\RA};\addlegendentry{RESV, cluster 12}
\addplot[rM] table[x=colnames,y=c13]{\RA};\addlegendentry{RESV, cluster 13}
\addplot[rN] table[x=colnames,y=c14]{\RA};\addlegendentry{RESV, cluster 14}
\end{axis}

% ---------- top right
\begin{axis}[rmsd, width=281pt, at={(370pt,454.5pt)}, anchor=south west,
  legend style={at={(0.024,0.99)}, row sep=2.15pt, font=\fontsize{6.1}{7}\selectfont}]
\addplot[aA] table[x=colnames,y=a1]{\AA};\addlegendentry{ACARB, cluster 1}
\addplot[aB] table[x=colnames,y=a2]{\AA};\addlegendentry{ACARB, cluster 2}
\addplot[aC] table[x=colnames,y=a3]{\AA};\addlegendentry{ACARB, cluster 3}
\addplot[aD] table[x=colnames,y=a4]{\AA};\addlegendentry{ACARB, cluster 4}
\addplot[aE] table[x=colnames,y=a5]{\AA};\addlegendentry{ACARB, cluster 5}
\addplot[aF] table[x=colnames,y=a6]{\AA};\addlegendentry{ACARB, cluster 6}
\addplot[aG] table[x=colnames,y=a7]{\AA};\addlegendentry{ACARB, cluster 7}
\addplot[aH] table[x=colnames,y=a8]{\AA};\addlegendentry{ACARB, cluster 8}
\addplot[aI] table[x=colnames,y=a9]{\AA};\addlegendentry{ACARB, cluster 9}
\end{axis}

% ---------- middle left
\begin{axis}[rmsd, width=277pt, at={(34pt,238.5pt)}, anchor=south west,
  legend style={at={(0.017,0.985)}, row sep=5.1pt}]
\addplot[mA] table[x=colnames,y=m1]{\RS};\addlegendentry{RESV, cluster 1}
\addplot[mC] table[x=colnames,y=m3]{\RS};\addlegendentry{RESV, cluster 3}
\addplot[mD] table[x=colnames,y=m4]{\RS};\addlegendentry{RESV, cluster 4}
\addplot[mE] table[x=colnames,y=m5]{\RS};\addlegendentry{RESV, cluster 5}
\addplot[mG] table[x=colnames,y=m7]{\RS};\addlegendentry{RESV, cluster 7}
\addplot[mI] table[x=colnames,y=m9]{\RS};\addlegendentry{RESV, cluster 9}
\end{axis}

% ---------- middle right
\begin{axis}[rmsd, width=281pt, at={(370pt,238.5pt)}, anchor=south west,
  legend style={at={(0.024,0.985)}, row sep=4.25pt, font=\fontsize{6.1}{7}\selectfont}]
\addplot[nA] table[x=colnames,y=n1]{\AS};\addlegendentry{ACARB, cluster 1}
\addplot[nC] table[x=colnames,y=n3]{\AS};\addlegendentry{ACARB, cluster 3}
\addplot[nD] table[x=colnames,y=n4]{\AS};\addlegendentry{ACARB, cluster 4}
\addplot[nE] table[x=colnames,y=n5]{\AS};\addlegendentry{ACARB, cluster 5}
\addplot[nF] table[x=colnames,y=n6]{\AS};\addlegendentry{ACARB, cluster 6}
\addplot[nG] table[x=colnames,y=n7]{\AS};\addlegendentry{ACARB, cluster 7}
\addplot[nH] table[x=colnames,y=n8]{\AS};\addlegendentry{ACARB, cluster 8}
\end{axis}

% ---------- bottom left (bars)
\begin{axis}[mmpbsa, width=273.5pt, at={(42.5pt,28pt)}, anchor=south west,
  bar width=10pt, ymax=35, ytick={0,5,...,35},
  xmin=-0.5, xmax=5.5, xtick={0,1,2,3,4,5},
  xticklabels={{RESV,\\cluster 1},{RESV,\\cluster 3},{RESV,\\cluster 4},{RESV,\\cluster 5},{RESV,\\cluster 7},{RESV,\\cluster 9}},
  yticklabel style={xshift=-3pt},
  ylabel style={at={(axis description cs:-0.11,0.388)}},
  legend style={at={(0.827,0.933)}}]
\addplot[fill=barGreen, draw=none, bar shift=-6.75pt,
  legend image code/.code={\fill[barGreen] (0pt,-1.6pt) rectangle (3.2pt,1.6pt);}]
  coordinates {(0,28.5) (1,16.9) (2,14.3) (3,11.0) (4,19.6) (5,7.5)};
\addlegendentry{All 100 ns}
\addplot[fill=barPurple, draw=none, bar shift=6.75pt,
  legend image code/.code={\fill[barPurple] (0pt,-1.6pt) rectangle (3.2pt,1.6pt);}]
  coordinates {(0,23.5) (1,18.3) (2,16.3) (3,8.8) (4,16.7) (5,6.2)};
\addlegendentry{Last 20 ns}
\end{axis}

% ---------- bottom right (bars)
\begin{axis}[mmpbsa, width=278.5pt, at={(380pt,28pt)}, anchor=south west,
  bar width=9pt, ymax=30, ytick={0,5,...,30},
  xmin=-0.5, xmax=6.5, xtick={0,1,2,3,4,5,6},
  xticklabels={{ACARB,\\cluster 1},{ACARB,\\cluster 3},{ACARB,\\cluster 4},{ACARB,\\cluster 5},{ACARB,\\cluster 6},{ACARB,\\cluster 7},{ACARB,\\cluster 8}},
  yticklabel style={xshift=-4pt},
  ylabel style={at={(axis description cs:-0.108,0.388)}},
  legend style={at={(0.826,0.933)}}]
\addplot[fill=barGreen, draw=none, bar shift=-5.75pt,
  legend image code/.code={\fill[barGreen] (0pt,-1.6pt) rectangle (3.2pt,1.6pt);}]
  coordinates {(0,7.2) (1,5.0) (2,9.6) (3,9.9) (4,6.6) (5,9.4) (6,7.1)};
\addlegendentry{All 100 ns}
\addplot[fill=barPurple, draw=none, bar shift=5.75pt,
  legend image code/.code={\fill[barPurple] (0pt,-1.6pt) rectangle (3.2pt,1.6pt);}]
  coordinates {(0,6.4) (1,6.6) (2,10.6) (3,10.2) (4,4.2) (5,9.4) (6,7.5)};
\addlegendentry{Last 20 ns}
\end{axis}

\pgfresetboundingbox
\useasboundingbox (0,0) rectangle (659,673);
\end{tikzpicture}
\end{document}
